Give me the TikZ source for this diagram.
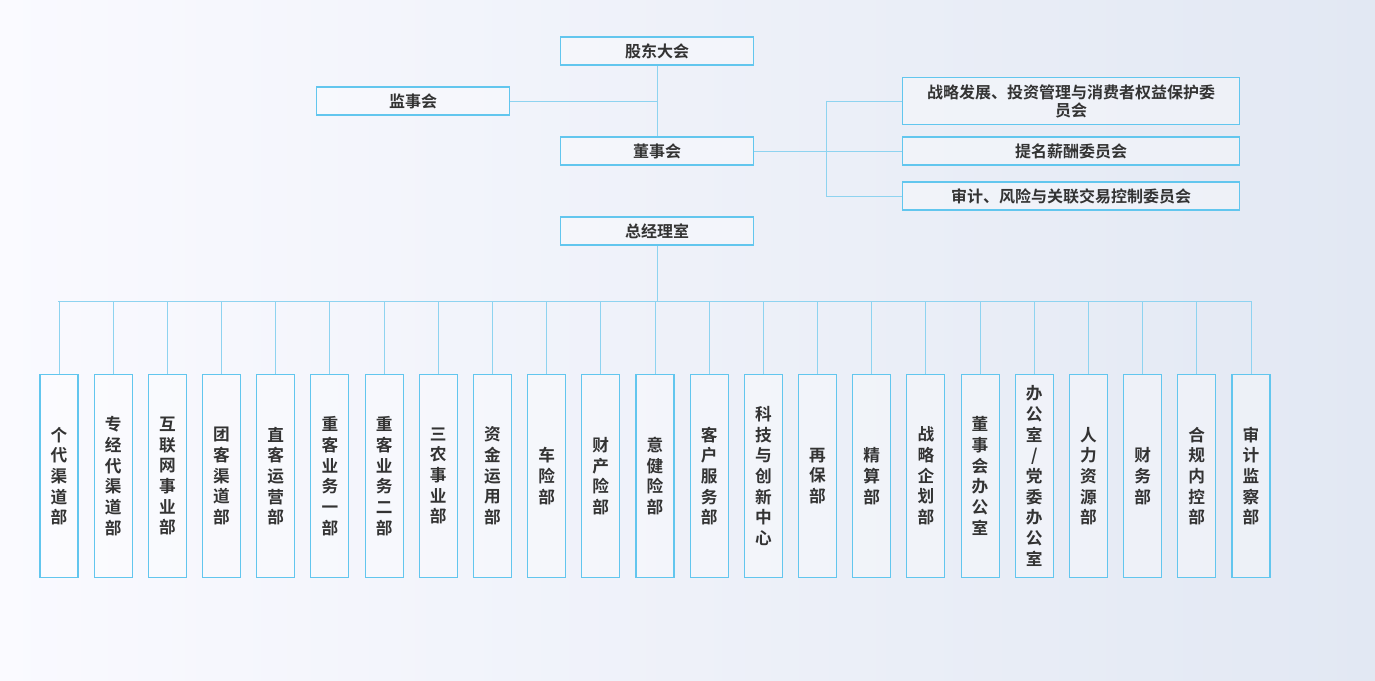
\documentclass[tikz,border=0pt]{standalone}
\usepackage{fontspec}
\newfontfamily\cjk{Noto Sans CJK SC}[BoldFont={Noto Sans CJK SC Bold}]
\definecolor{bd}{HTML}{62C6EE}
\definecolor{bl}{HTML}{8ED3F0}
\definecolor{bgr}{HTML}{E2E8F3}
\begin{document}
\begin{tikzpicture}[x=0.75pt,y=-0.75pt,
  bx/.style={draw=bd, line width=0.8pt, fill=white, fill opacity=0.35, text opacity=1, inner sep=0pt, font=\cjk\bfseries\fontsize{12pt}{13.5pt}\selectfont, text=black!80, align=center},
  vb/.style={bx, minimum width=28.5pt, minimum height=152pt, font=\cjk\bfseries\fontsize{12.5pt}{15.5pt}\selectfont},
  ln/.style={draw=bl, line width=0.7pt}]
\shade[left color=white!98!blue, right color=bgr] (0,0) rectangle (1375,681);
\useasboundingbox (0,0) rectangle (1375,681);
\node[bx, minimum width=145pt, minimum height=21pt] (gd) at (657,51) {股东大会};
\node[bx, minimum width=145pt, minimum height=21pt] (js) at (413,101) {监事会};
\node[bx, minimum width=145pt, minimum height=21pt] (ds) at (657,151) {董事会};
\node[bx, minimum width=145pt, minimum height=21pt] (zj) at (657,231) {总经理室};
\node[bx, minimum width=253pt, minimum height=35pt] (c1) at (1071,101) {战略发展、投资管理与消费者权益保护委\\员会};
\node[bx, minimum width=253pt, minimum height=21pt] (c2) at (1071,151) {提名薪酬委员会};
\node[bx, minimum width=253pt, minimum height=21pt] (c3) at (1071,196) {审计、风险与关联交易控制委员会};
\draw[ln] (gd) -- (ds);
\draw[ln] (js.east) -- (657,101);
\coordinate (br) at (826,151);
\draw[ln] (ds.east) -- (br);
\draw[ln] (826,101) |- (c3.west);
\draw[ln] (826,101) -- (c1.west);
\draw[ln] (br) -- (c2.west);
\coordinate (bus) at (657,301);
\draw[ln] (zj) -- (bus);
\draw[ln] (58,301) -- (1252,301);
\foreach \t [count=\i from 0] in {个\\代\\渠\\道\\部, 专\\经\\代\\渠\\道\\部, 互\\联\\网\\事\\业\\部, 团\\客\\渠\\道\\部, 直\\客\\运\\营\\部, 重\\客\\业\\务\\一\\部, 重\\客\\业\\务\\二\\部, 三\\农\\事\\业\\部, 资\\金\\运\\用\\部, 车\\险\\部, 财\\产\\险\\部, 意\\健\\险\\部, 客\\户\\服\\务\\部, 科\\技\\与\\创\\新\\中\\心, 再\\保\\部, 精\\算\\部, 战\\略\\企\\划\\部, 董\\事\\会\\办\\公\\室, 办\\公\\室\\/\\党\\委\\办\\公\\室, 人\\力\\资\\源\\部, 财\\务\\部, 合\\规\\内\\控\\部, 审\\计\\监\\察\\部}{
  \pgfmathsetmacro\xx{59+54.18*\i}
  \node[vb] (d\i) at (\xx,476) {\t};
  \draw[ln] (\xx,301) -- (d\i.north);
}
\end{tikzpicture}
\end{document}
